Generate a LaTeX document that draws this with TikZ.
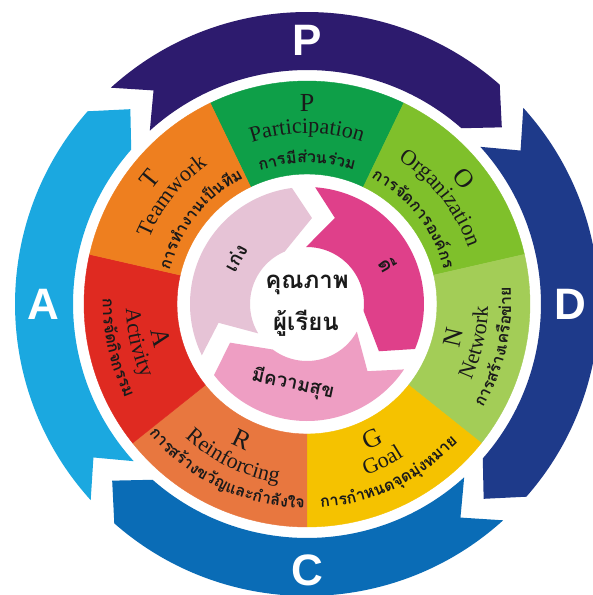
\documentclass[tikz,border=0pt]{standalone}
\usepackage{fontspec}
\setmainfont{Liberation Serif}
\newfontfamily\thaifont[Script=Thai]{Loma}
\newfontfamily\pdcafont{Liberation Sans}
\definecolor{arP}{HTML}{2D1B6E}
\definecolor{arD}{HTML}{1E3A8A}
\definecolor{arC}{HTML}{0A6CB6}
\definecolor{arA}{HTML}{1BA8E0}
\definecolor{secP}{HTML}{0E9F48}
\definecolor{secO}{HTML}{7FC02B}
\definecolor{secN}{HTML}{A3CD57}
\definecolor{secG}{HTML}{F5C200}
\definecolor{secR}{HTML}{E8773F}
\definecolor{secA}{HTML}{DF2A21}
\definecolor{secT}{HTML}{EE7F1F}
\definecolor{inL}{HTML}{E6C3D6}
\definecolor{inM}{HTML}{DF408A}
\definecolor{inP}{HTML}{EE9EC3}
\definecolor{txt}{HTML}{1A1A1A}
\newdimen\arcw
\newdimen\chw
% #1 name, #2 baseline radius, #3 centre angle, #4 font, #5 dir (+1 clockwise reading, -1 ccw), #6 chunks
\newcommand\arctext[6]{%
  \global\arcw=0pt
  \foreach \c in {#6}{\setbox0\hbox{\pgfinterruptpicture#4\c\endpgfinterruptpicture}\global\advance\arcw by \wd0\relax}%
  \pgfmathsetmacro\arcst{#3+(#5)*0.5*\arcw/(#2)*180/pi}%
  \global\arcw=0pt
  \foreach \c [count=\i] in {#6}{%
    \setbox0\hbox{\pgfinterruptpicture#4\c\endpgfinterruptpicture}\global\chw=\wd0\relax
    \pgfmathsetmacro\ang{\arcst-(#5)*(\arcw+0.5*\chw)/(#2)*180/pi}%
    \pgfmathsetmacro\rot{\ang-(#5)*90}%
    \node[font=#4,text=txt,inner sep=0pt,anchor=base,rotate=\rot] (#1\i) at (\ang:#2) {\c};
    \global\advance\arcw by \chw\relax
  }%
}
\newcommand\LF{\fontsize{26}{26}\selectfont}
\newcommand\WF{\fontsize{22}{22}\selectfont}
\newcommand\TF{\thaifont\bfseries\fontsize{16}{16}\selectfont}
\tikzset{
  pdca/.style={text=white,font=\pdcafont\bfseries\fontsize{44}{44}\selectfont,inner sep=0pt},
  centre/.style={text=txt,font=\thaifont\bfseries\fontsize{24}{24}\selectfont,inner sep=0pt},
  inner/.style={text=txt,font=\thaifont\bfseries\fontsize{19}{19}\selectfont,inner sep=0pt},
}
\begin{document}
\begin{tikzpicture}[x=1pt,y=1pt]
\useasboundingbox (-307,-291) rectangle (286,304);
\clip (-307,-291) rectangle (286,304);
\fill[white] (-307,-291) rectangle (286,304);
% outer PDCA arrows
\foreach \ang/\col in {0/arP,-90/arD,-180/arC,-270/arA}{
  \begin{scope}[rotate=\ang]
    \fill[\col] (132.2:292) arc[start angle=132.2,end angle=48.7,radius=292]
      -- (42.2:263) -- (48.7:234) arc[start angle=48.7,end angle=132.2,radius=234]
      -- (125.7:263) -- cycle;
  \end{scope}
}
\node[pdca] (lP) at (90:264) {P};
\node[pdca] (lD) at (0:263) {D};
\node[pdca] (lC) at (-90:266) {C};
\node[pdca] (lA) at (180:264) {A};
% coloured ring, 7 sectors
\foreach \k/\col in {0/secP,1/secO,2/secN,3/secG,4/secR,5/secA,6/secT}{
  \pgfmathsetmacro\sa{90-51.4286*\k+25.7143}
  \pgfmathsetmacro\sb{\sa-51.4286}
  \filldraw[\col,line width=0.4pt] (\sa:223) arc[start angle=\sa,end angle=\sb,radius=223]
    -- (\sb:130) arc[start angle=\sb,end angle=\sa,radius=130] -- cycle;
}
% inner ring arrows
\foreach \ang/\col in {0/inL,-120/inM,-240/inP}{
  \begin{scope}[rotate=\ang]
    \fill[\col] (97.4:117) -- (86.7:86.1) -- (113:57) arc[start angle=113,end angle=211,radius=57]
      -- (192:90.4) -- (206:117) arc[start angle=206,end angle=97.4,radius=117] -- cycle;
  \end{scope}
}
% sector texts: upper sectors (top outward)
\arctext{pL}{192.5}{90}{\LF}{1}{P}
\arctext{pW}{171}{90}{\WF}{1}{P,a,r,t,i,c,i,p,a,t,i,o,n}
\arctext{pT}{141}{90}{\TF}{1}{การ,มี,ส่วน,ร่วม}
\arctext{oL}{192.5}{38.57}{\LF}{1}{O}
\arctext{oW}{171}{38.57}{\WF}{1}{O,r,g,a,n,i,z,a,t,i,o,n}
\arctext{oT}{141}{38.57}{\TF}{1}{การ,จัด,การ,องค์,กร}
\arctext{tL}{192.5}{141.43}{\LF}{1}{T}
\arctext{tW}{171}{141.43}{\WF}{1}{T,e,a,m,w,o,r,k}
\arctext{tT}{141}{141.43}{\TF}{1}{การ,ทำ,งาน,เป็น,ทีม}
% lower sectors (top inward)
\arctext{nL}{158.5}{-12.86}{\LF}{-1}{N}
\arctext{nW}{181}{-12.86}{\WF}{-1}{N,e,t,w,o,r,k}
\arctext{nT}{204}{-12.86}{\TF}{-1}{การ,สร้าง,เครือ,ข่าย}
\arctext{gL}{158.5}{-64.29}{\LF}{-1}{G}
\arctext{gW}{181}{-64.29}{\WF}{-1}{G,o,a,l}
\arctext{gT}{204}{-64.29}{\TF}{-1}{การ,กำ,หนด,จุด,มุ่ง,หมาย}
\arctext{rL}{158.5}{-115.71}{\LF}{-1}{R}
\arctext{rW}{181}{-115.71}{\WF}{-1}{R,e,i,n,f,o,r,c,i,n,g}
\arctext{rT}{204}{-115.71}{\TF}{-1}{การ,สร้าง,ขวัญ,และ,กำ,ลัง,ใจ}
\arctext{aL}{158.5}{192.86}{\LF}{-1}{A}
\arctext{aW}{181}{192.86}{\WF}{-1}{A,c,t,i,v,i,t,y}
\arctext{aT}{204}{192.86}{\TF}{-1}{การ,จัด,กิจ,กรรม}
% centre and inner ring texts
\node[centre] (q1) at (0,19) {คุณภาพ};
\node[centre] (q2) at (-1,-19) {ผู้เรียน};
\node[inner,rotate=62] (i1) at (147:85) {เก่ง};
\node[inner,rotate=-60] (i2) at (26:90) {ดี};
\node[inner,rotate=-12] (i3) at (-100:81) {มีความสุข};
\end{tikzpicture}
\end{document}
